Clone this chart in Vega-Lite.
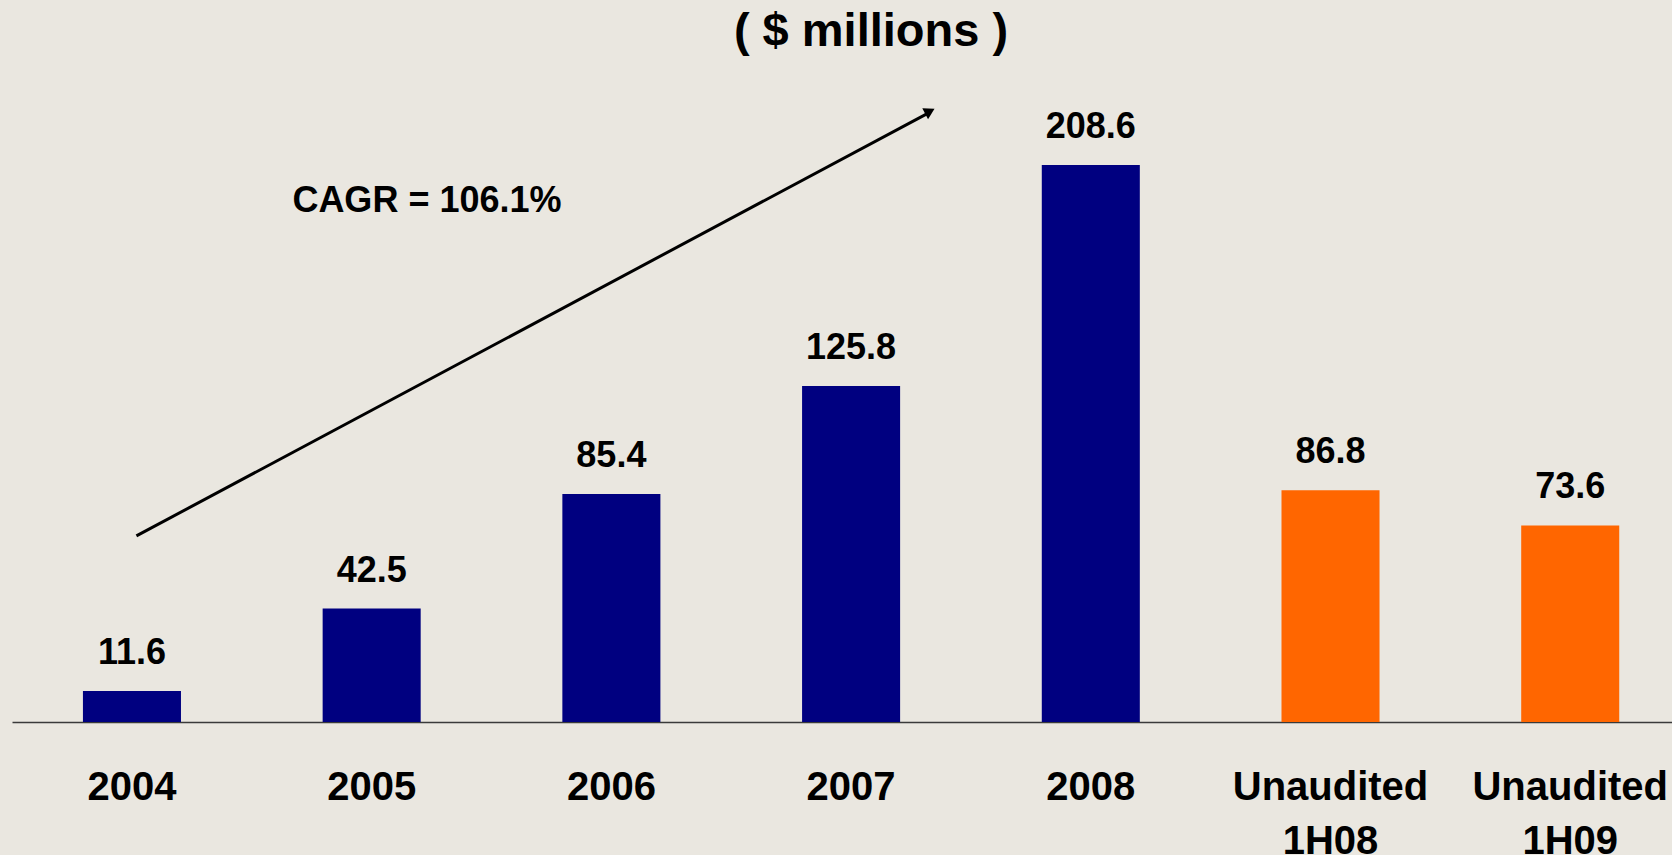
{
  "$schema": "https://vega.github.io/schema/vega-lite/v6.json",
  "autosize": {"type": "none"},
  "padding": {"left": 12, "top": 60, "right": 0, "bottom": 133},
  "width": 1660,
  "height": 662,
  "background": "#EAE7E0",
  "config": {"view": {"stroke": null}, "font": "Liberation Sans"},
  "title": {
    "text": "( $ millions )",
    "fontSize": 47,
    "fontWeight": "bold",
    "font": "Liberation Sans",
    "color": "#000000",
    "anchor": "middle",
    "frame": "group",
    "baseline": "alphabetic",
    "offset": 9,
    "dx": 29,
    "dy": 42
  },
  "layer": [
    {
      "data": {
        "values": [
          {"category": "2004", "value": 11.6, "status": "Audited"},
          {"category": "2005", "value": 42.5, "status": "Audited"},
          {"category": "2006", "value": 85.4, "status": "Audited"},
          {"category": "2007", "value": 125.8, "status": "Audited"},
          {"category": "2008", "value": 208.6, "status": "Audited"},
          {"category": "Unaudited 1H08", "value": 86.8, "status": "Unaudited"},
          {"category": "Unaudited 1H09", "value": 73.6, "status": "Unaudited"}
        ]
      },
      "encoding": {
        "x": {
          "field": "category",
          "type": "nominal",
          "sort": null,
          "scale": {"paddingInner": 0.591, "paddingOuter": 0.258, "align": 0.5735},
          "axis": {
            "title": null,
            "domain": true,
            "domainColor": "#3a3a3a",
            "domainWidth": 1.5,
            "ticks": false,
            "grid": false,
            "labelPadding": 45,
            "labelFontSize": 40,
            "labelFontWeight": "bold",
            "labelFont": "Liberation Sans",
            "labelColor": "#000000",
            "labelAngle": 0,
            "labelLineHeight": 54,
            "labelBaseline": "top",
            "labelLimit": 0,
            "labelExpr": "indexof(datum.label, ' ') > 0 ? split(datum.label, ' ') : datum.label"
          }
        },
        "y": {
          "field": "value",
          "type": "quantitative",
          "scale": {"domain": [0, 247.9], "nice": false, "zero": true},
          "axis": null
        }
      },
      "layer": [
        {
          "mark": {"type": "bar"},
          "encoding": {
            "color": {
              "field": "status",
              "type": "nominal",
              "scale": {"domain": ["Audited", "Unaudited"], "range": ["#000080", "#FF6600"]},
              "legend": null
            }
          }
        },
        {
          "mark": {"type": "text", "baseline": "alphabetic", "dy": -27, "fontSize": 36, "fontWeight": "bold", "font": "Liberation Sans", "color": "#000000"},
          "encoding": {"text": {"field": "value", "type": "quantitative", "format": ".1f"}}
        }
      ]
    },
    {
      "layer": [
        {
          "data": {"values": [{"x": 0.519, "y": 69.7, "x2": 3.826, "y2": 228.2}]},
          "mark": {"type": "rule", "strokeWidth": 3, "color": "#000000"},
          "encoding": {
            "x": {"field": "x", "type": "quantitative", "scale": {"domain": [0, 6.925], "nice": false, "zero": false}, "axis": null},
            "x2": {"field": "x2"},
            "y": {"field": "y", "type": "quantitative", "scale": {"domain": [0, 247.9], "nice": false}, "axis": null},
            "y2": {"field": "y2"}
          }
        },
        {
          "data": {"values": [{"x": 3.829, "y": 228.7}]},
          "mark": {"type": "point", "shape": "triangle-up", "angle": 62, "size": 150, "filled": true, "color": "#000000", "opacity": 1},
          "encoding": {
            "x": {"field": "x", "type": "quantitative", "scale": {"domain": [0, 6.925], "nice": false, "zero": false}, "axis": null},
            "y": {"field": "y", "type": "quantitative", "scale": {"domain": [0, 247.9], "nice": false}, "axis": null}
          }
        },
        {
          "data": {"values": [{"x": 1.731, "y": 191, "label": "CAGR = 106.1%"}]},
          "mark": {"type": "text", "baseline": "alphabetic", "align": "center", "fontSize": 36, "fontWeight": "bold", "font": "Liberation Sans", "color": "#000000"},
          "encoding": {
            "x": {"field": "x", "type": "quantitative", "scale": {"domain": [0, 6.925], "nice": false, "zero": false}, "axis": null},
            "y": {"field": "y", "type": "quantitative", "scale": {"domain": [0, 247.9], "nice": false}, "axis": null},
            "text": {"field": "label"}
          }
        }
      ]
    }
  ],
  "resolve": {"scale": {"x": "independent"}}
}
